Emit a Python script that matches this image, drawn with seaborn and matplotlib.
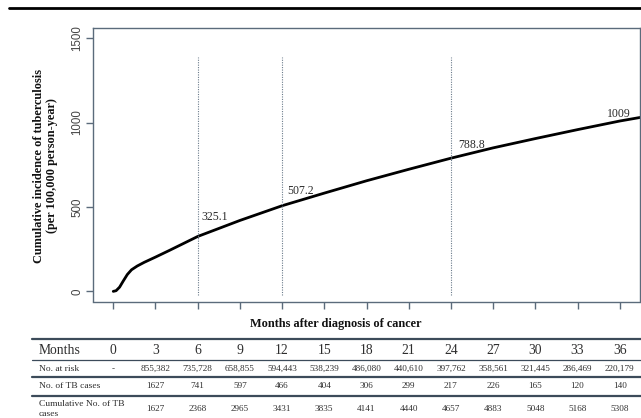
import matplotlib
matplotlib.use("Agg")
import matplotlib.pyplot as plt
from matplotlib.lines import Line2D
from matplotlib.transforms import blended_transform_factory
import seaborn as sns
import pandas as pd

# Cumulative incidence curve (per 100,000 person-year) over months after cancer diagnosis
curve_months = [0, 0.2, 0.45, 0.7, 1.0, 1.3, 1.7, 2.2, 3.0, 4.0, 5.0, 6, 9, 12, 15, 18, 21, 24, 27, 30, 33, 36, 37.44]
curve_incidence = [0, 4, 25, 60, 100, 128, 150, 172, 203, 243, 284, 325.1, 420, 507.2, 582, 655, 723, 788.8, 850, 905, 958, 1009, 1030]

# Marked time points and their labelled incidence
marked_months = [6, 12, 24]
marked_labels = ["325.1", "507.2", "788.8", "1009"]
label_months = [6.3, 12.4, 24.5, 35.1]
label_values = [440, 597, 869, 1052]

# Risk table
table_months = [0, 3, 6, 9, 12, 15, 18, 21, 24, 27, 30, 33, 36]
at_risk = ["-", "855,382", "735,728", "658,855", "594,443", "538,239", "486,080",
           "440,610", "397,762", "358,561", "321,445", "286,469", "220,179"]
tb_cases = ["", "1627", "741", "597", "466", "404", "306", "299", "217", "226", "165", "120", "140"]
cum_tb_cases = ["", "1627", "2368", "2965", "3431", "3835", "4141", "4440", "4657", "4883",
                "5048", "5168", "5308"]

y_ticks = [0, 500, 1000, 1500]

sns.set_theme(style="ticks")
plt.rcParams["font.family"] = ["Liberation Serif", "DejaVu Serif"]

W, H = 641, 418
fig = plt.figure(figsize=(W / 100, H / 100), dpi=100)
fig.patch.set_facecolor("white")

def fx(px):
    return px / W

def fy(py):
    return 1 - py / H

ax = fig.add_axes([fx(93), fy(301.5), fx(640) - fx(93), fy(28) - fy(301.5)])
ax.set_facecolor("white")

df = pd.DataFrame({"month": curve_months, "incidence": curve_incidence})
sns.lineplot(data=df, x="month", y="incidence", ax=ax, color="black", linewidth=2.0,
             estimator=None, sort=True)

ax.vlines(marked_months, -20, 1390, colors="#6b7b8b", linestyles=(0, (1, 1.2)), linewidth=0.8)

for t, xm, yv in zip(marked_labels, label_months, label_values):
    ax.text(xm, yv, t, ha="left", va="center", fontsize=8.5, color="#2a2a2a",
            family=["Liberation Serif"])

ax.set_xlim(-1.44, 37.44)
ax.set_ylim(-60, 1560)
ax.set_xticks(table_months)
ax.set_xticklabels([""] * len(table_months))
ax.set_yticks(y_ticks)
ax.set_yticklabels([str(v) for v in y_ticks], rotation=90, va="center",
                   family=["Liberation Sans"], fontsize=8.3, color="#444444")
ax.set_xlabel("")
ax.set_ylabel("")

edge = "#5b6b7b"
for s in ax.spines.values():
    s.set_visible(True)
    s.set_color(edge)
    s.set_linewidth(1.0)
ax.tick_params(axis="both", direction="out", length=5, width=1.0, color=edge, pad=2)

fig.text(fx(336), fy(324), "Months after diagnosis of cancer", ha="center", va="center",
         fontsize=8.8, fontweight="bold", color="#111111")
fig.text(fx(45.5), fy(166), "Cumulative incidence of tuberculosis\n(per 100,000 person-year)",
         rotation=90, ha="center", va="center", multialignment="center",
         fontsize=8.8, fontweight="bold", color="#111111", linespacing=1.2)

# Rule across the top of the figure
fig.add_artist(Line2D([fx(9), 1], [fy(7.5), fy(7.5)], transform=fig.transFigure,
                      color="black", linewidth=2.0))

# Table rules
rule = "#3c4b5a"
for py, lw in [(339, 1.6), (360, 0.9), (377, 1.6), (395.5, 1.6)]:
    fig.add_artist(Line2D([fx(32), 1], [fy(py), fy(py)], transform=fig.transFigure,
                          color=rule, linewidth=lw))

tr = blended_transform_factory(ax.transData, fig.transFigure)
txt = "#2e2e2e"
fig.text(fx(39), fy(350), "Months", ha="left", va="center", fontsize=9.8, color=txt)
fig.text(fx(39), fy(369), "No. at risk", ha="left", va="center", fontsize=6.8, color=txt)
fig.text(fx(39), fy(386), "No. of TB cases", ha="left", va="center", fontsize=6.8, color=txt)
fig.text(fx(39), fy(403.5), "Cumulative No. of TB", ha="left", va="center", fontsize=6.8, color=txt)
fig.text(fx(39), fy(414), "cases", ha="left", va="center", fontsize=6.8, color=txt)

for m, r, c, cc in zip(table_months, at_risk, tb_cases, cum_tb_cases):
    ax.text(m, fy(350), str(m), transform=tr, ha="center", va="center", fontsize=9.8,
            color=txt, clip_on=False)
    ax.text(m, fy(369), r, transform=tr, ha="center", va="center", fontsize=6.6,
            color=txt, clip_on=False)
    ax.text(m, fy(386), c, transform=tr, ha="center", va="center", fontsize=6.6,
            color=txt, clip_on=False)
    ax.text(m, fy(409), cc, transform=tr, ha="center", va="center", fontsize=6.6,
            color=txt, clip_on=False)

fig.savefig("out.png", dpi=100, facecolor="white")
